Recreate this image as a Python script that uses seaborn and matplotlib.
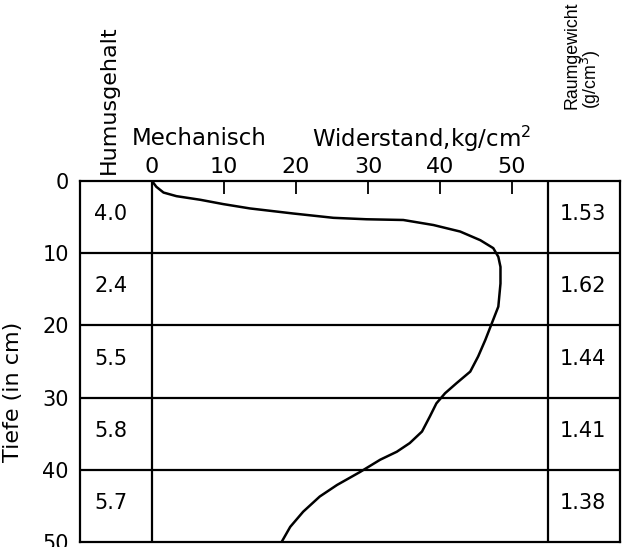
import matplotlib
matplotlib.use("Agg")
import matplotlib.pyplot as plt
import seaborn as sns

# mechanical resistance profile (kg/cm^2) against depth (cm)
depth = [0, 0.8, 1.6, 2.1, 2.6, 3.2, 3.8, 4.5, 5.1, 5.3, 5.4, 6.1, 7.0, 8.2, 9.3, 10.5,
         11.9, 14.2, 17.4, 19.7, 22.0, 24.3, 26.4, 28.0, 29.4, 30.8, 32.6, 34.7,
         36.3, 37.5, 38.6, 40.3, 42.1, 43.7, 45.8, 47.9, 50.0]
resistance = [0, 0.6, 1.6, 3.4, 6.7, 9.9, 13.6, 19.6, 25.2, 29.8, 34.9, 39.1, 42.8, 45.6,
              47.4, 48.1, 48.4, 48.4, 48.1, 47.2, 46.3, 45.3, 44.2, 42.3, 40.7, 39.5,
              38.6, 37.5, 35.8, 34.0, 31.7, 28.9, 25.7, 23.3, 21.0, 19.2, 18.0]

# layer table
layer_bounds = [0, 10, 20, 30, 40, 50]
humus = ["4.0", "2.4", "5.5", "5.8", "5.7"]
raumgewicht = ["1.53", "1.62", "1.44", "1.41", "1.38"]
x_ticks = [0, 10, 20, 30, 40, 50]

sns.set_style("white")
plt.rcParams["font.family"] = ["DejaVu Sans"]
plt.rcParams["text.color"] = "black"
plt.rcParams["axes.labelcolor"] = "black"

fig = plt.figure(figsize=(6.22, 5.47), dpi=100)
ax = fig.add_axes([80 / 622, 5 / 547, 540 / 622, 361 / 547])

sns.lineplot(x=resistance, y=depth, sort=False, estimator=None,
             color="black", lw=1.8, ax=ax)

ax.set_xlim(-10, 65)
ax.set_ylim(50, 0)

# table grid
for b in layer_bounds[1:-1]:
    ax.axhline(b, color="black", lw=1.6)
ax.axvline(0, color="black", lw=1.6)
ax.axvline(55, color="black", lw=1.6)

for s in ax.spines.values():
    s.set_linewidth(1.6)
    s.set_color("black")

# top x-axis with inward ticks
ax.xaxis.tick_top()
ax.set_xticks(x_ticks)
ax.set_xticklabels([str(t) for t in x_ticks])
ax.tick_params(axis="x", direction="in", length=9, width=1.3, pad=3,
               labelsize=16, colors="black")

ax.set_yticks(layer_bounds)
ax.set_yticklabels([str(b) for b in layer_bounds])
ax.tick_params(axis="y", length=0, pad=8, labelsize=15, colors="black")
ax.set_ylabel("Tiefe (in cm)", fontsize=16)
ax.yaxis.set_label_coords(-0.105, 0.415)

for i in range(len(humus)):
    mid = (layer_bounds[i] + layer_bounds[i + 1]) / 2 - 0.4
    ax.text(-5.7, mid, humus[i], ha="center", va="center", fontsize=15)
    ax.text(59.8, mid, raumgewicht[i], ha="center", va="center", fontsize=15)

# column headings
ax.text(-6.0, -1.0, "Humusgehalt", rotation=90, ha="center", va="bottom", fontsize=16)
ax.text(-2.8, -5.9, "Mechanisch", ha="left", va="center", fontsize=16.5)
ax.text(22.2, -5.9, "Widerstand,kg/cm$^2$", ha="left", va="center", fontsize=16.5)
ax.text(59.9, -10.0, "Raumgewicht\n(g/cm$^3$)", rotation=90, ha="center", va="bottom",
        fontsize=12.8, linespacing=0.88, multialignment="left",
        family=["Liberation Sans", "DejaVu Sans"])

fig.savefig("out.png", dpi=100)
